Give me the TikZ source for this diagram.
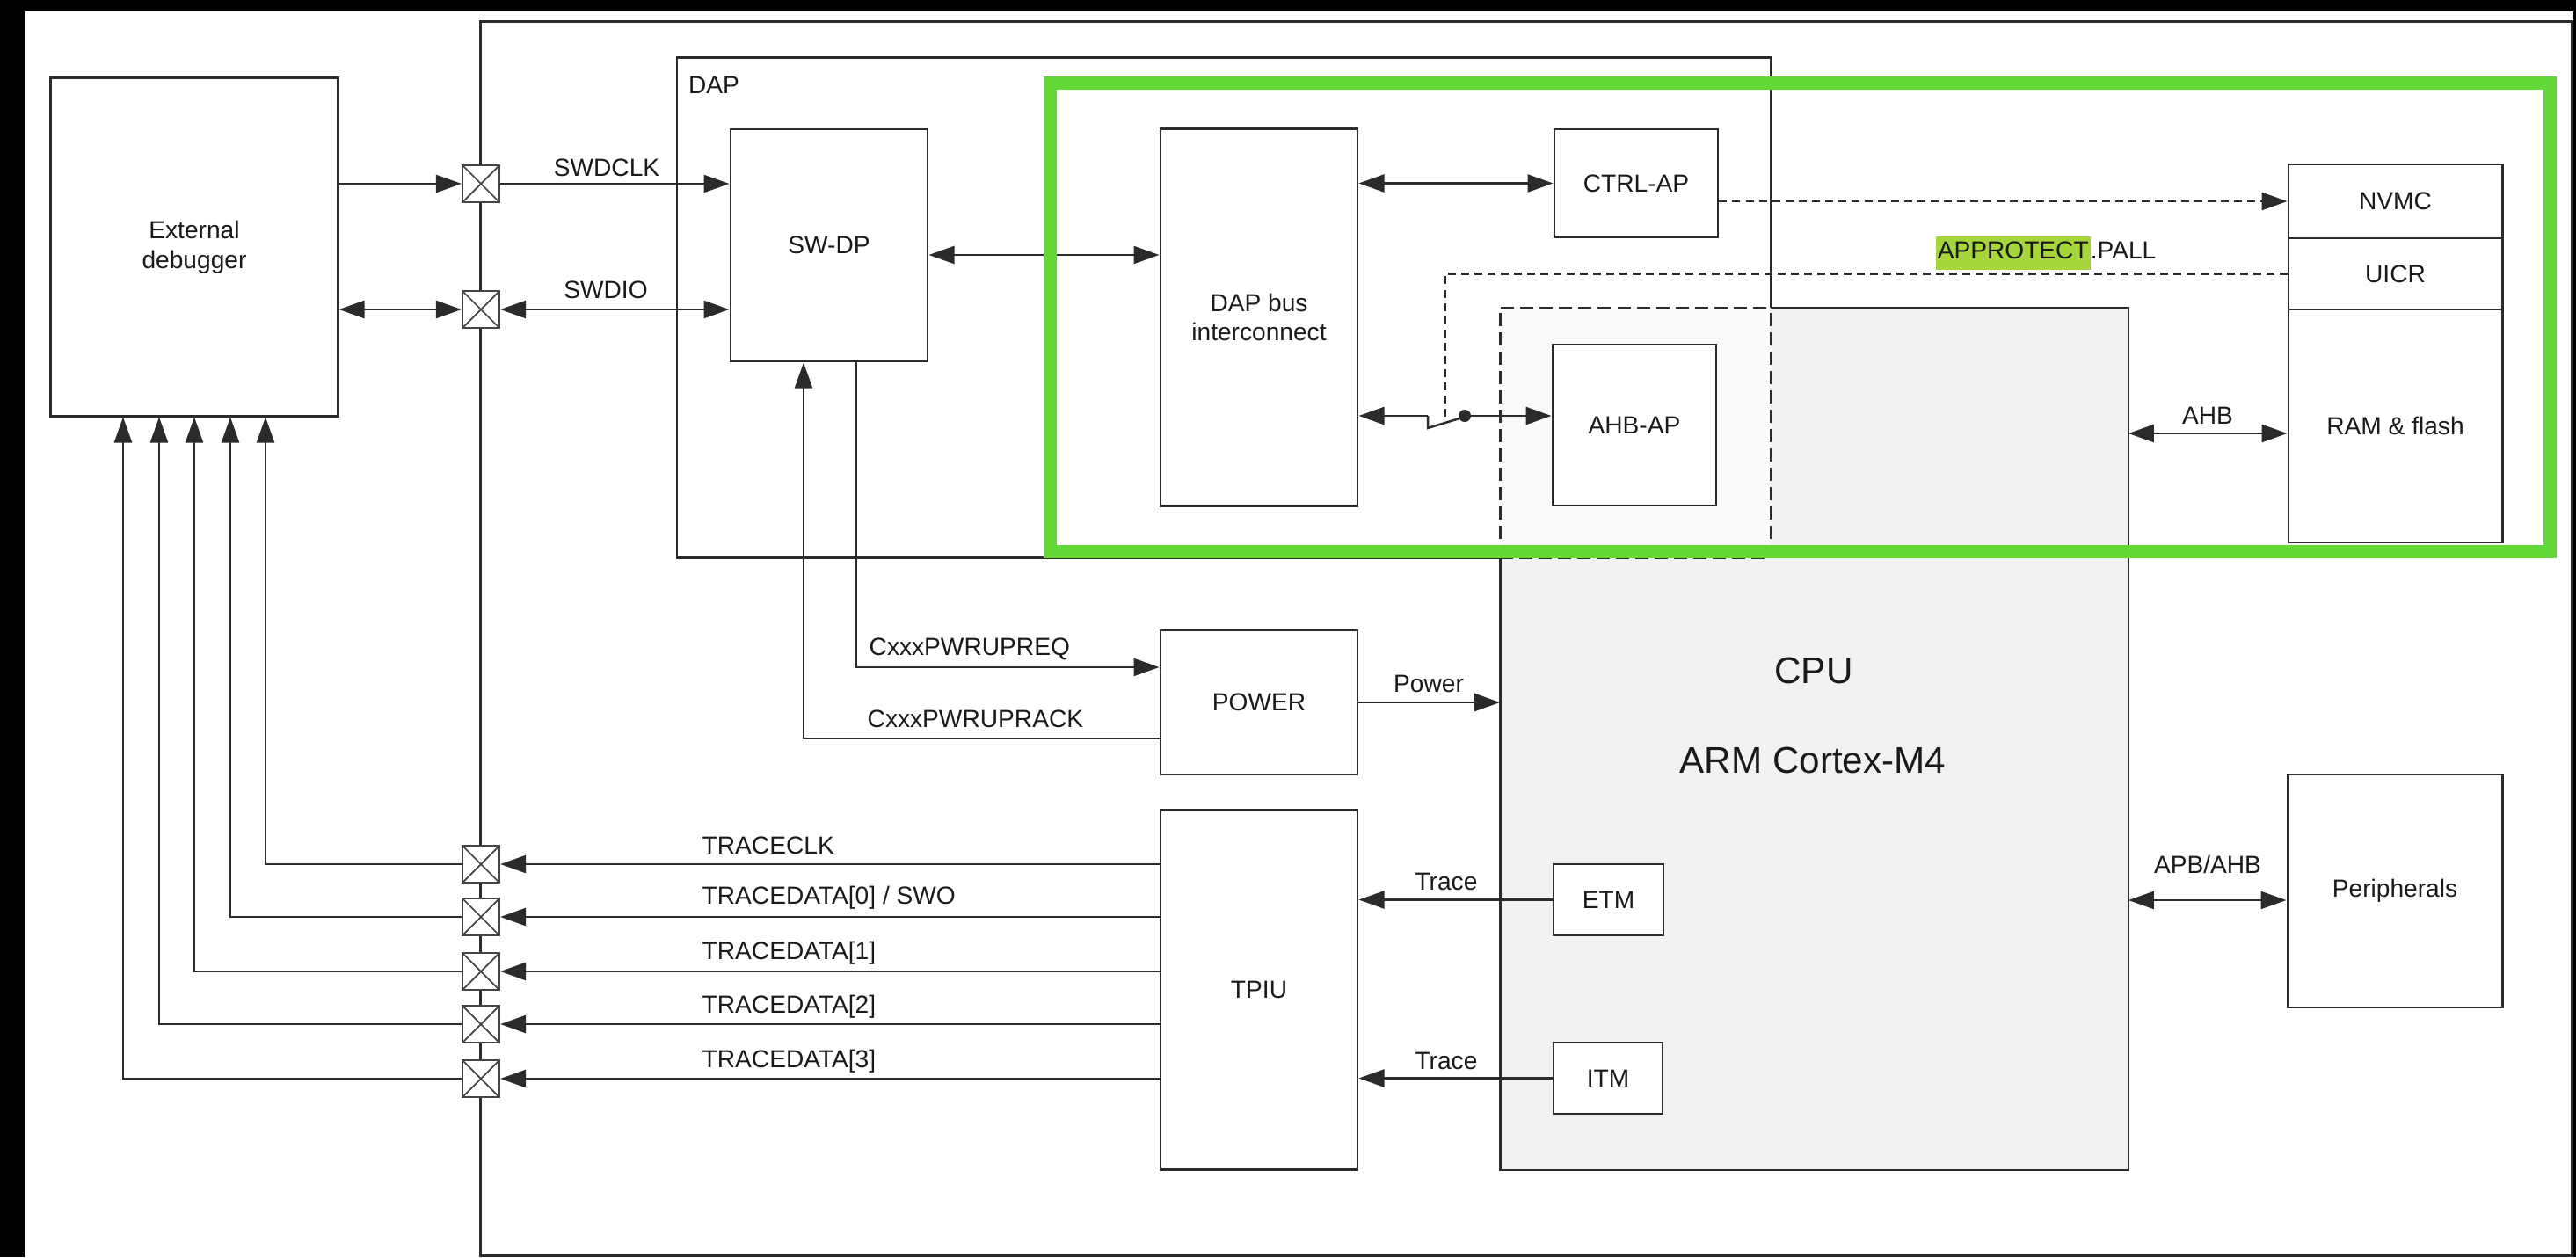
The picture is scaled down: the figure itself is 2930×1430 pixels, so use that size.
\documentclass[tikz,border=0pt]{standalone}
\usepackage{fontspec}
\setmainfont{Liberation Sans}
\usetikzlibrary{arrows.meta}
\definecolor{ln}{HTML}{2B2B2B}
\definecolor{padln}{HTML}{444444}
\definecolor{cpufill}{HTML}{F2F2F2}
\definecolor{ovl}{HTML}{FAFAFA}
\definecolor{grn}{HTML}{62D936}
\definecolor{hl}{HTML}{A6D63C}
\definecolor{txt}{HTML}{1A1A1A}
\begin{document}
\begin{tikzpicture}[x=0.01cm,y=-0.01cm,
  font=\fontsize{8}{9.6}\selectfont, text=txt,
  box/.style={draw=ln, line width=0.8pt, fill=white, inner sep=0pt, align=center},
  pad/.style={draw=padln, line width=0.6pt, fill=white, minimum width=0.42cm, minimum height=0.42cm, inner sep=0pt,
    path picture={\draw[padln,line width=0.5pt] (path picture bounding box.north west) -- (path picture bounding box.south east) (path picture bounding box.north east) -- (path picture bounding box.south west);}},
  conn/.style={draw=ln, line width=0.7pt},
  arr/.style={conn, -{Triangle[length=0.29cm,width=0.2cm]}},
  biarr/.style={conn, {Triangle[length=0.29cm,width=0.2cm]}-{Triangle[length=0.29cm,width=0.2cm]}},
  dsh/.style={conn, dash pattern=on 0.09cm off 0.06cm},
  bdsh/.style={draw=ln, line width=0.8pt, dash pattern=on 0.15cm off 0.07cm},
  bsol/.style={draw=ln, line width=0.8pt},
  lbl/.style={inner sep=0pt},
]
% background
\fill[black] (0,0) rectangle (2930,1430);
\fill[white] (29,13) rectangle (2927,1430);
\useasboundingbox (0,0) rectangle (2930,1430);

% outer chip box
\node[draw=ln, line width=0.8pt, minimum width=23.78cm, minimum height=14.03cm, inner sep=0pt] (outer) at (1736,726.5) {};

% DAP and CPU regions
\node[minimum width=12.42cm, minimum height=5.68cm, inner sep=0pt] (dap) at (1392,350) {};
\node[fill=cpufill, minimum width=7.13cm, minimum height=9.79cm, inner sep=0pt] (cpu) at (2063.5,840.5) {};
\fill[ovl] (cpu.north west) rectangle (dap.south east);
\draw[bsol] (cpu.north -| dap.east) -- (dap.north east) -- (dap.north west) -- (dap.south west) -- (dap.south -| cpu.west);
\draw[bdsh] (dap.south -| cpu.west) -- (dap.south east) -- (cpu.north -| dap.east);
\draw[bsol] (cpu.north -| dap.east) -- (cpu.north east) -- (cpu.south east) -- (cpu.south west) -- (dap.south -| cpu.west);
\draw[bdsh] (dap.south -| cpu.west) -- (cpu.north west) -- (cpu.north -| dap.east);
\node[lbl] (daplbl) at (812,97) {DAP};
\node[lbl, font=\fontsize{12}{14}\selectfont] (cpulbl) at (2063,763) {CPU};
\node[lbl, font=\fontsize{12}{14}\selectfont] (armlbl) at (2062,865) {ARM Cortex-M4};

% boxes
\node[box, minimum width=3.26cm, minimum height=3.84cm] (ext) at (221,281) {External\\debugger};
\node[box, minimum width=2.24cm, minimum height=2.64cm] (swdp) at (943,279) {SW-DP};
\node[box, minimum width=2.24cm, minimum height=4.28cm] (dapbus) at (1432,361) {DAP bus\\interconnect};
\node[box, minimum width=1.86cm, minimum height=1.23cm] (ctrl) at (1861,208.5) {CTRL-AP};
\node[box, minimum width=1.86cm, minimum height=1.83cm] (ahbap) at (1859,483.5) {AHB-AP};
\node[box, minimum width=2.24cm, minimum height=1.64cm] (power) at (1432,799) {POWER};
\node[box, minimum width=2.24cm, minimum height=4.08cm] (tpiu) at (1432,1126) {TPIU};
\node[box, minimum width=1.25cm, minimum height=0.81cm] (etm) at (1829.5,1023.5) {ETM};
\node[box, minimum width=1.24cm, minimum height=0.81cm] (itm) at (1829,1226.5) {ITM};
\node[box, minimum width=2.43cm, minimum height=0.84cm] (nvmc) at (2724.5,229) {NVMC};
\node[box, minimum width=2.43cm, minimum height=0.81cm] (uicr) at (2724.5,311.5) {UICR};
\node[box, minimum width=2.43cm, minimum height=2.65cm] (ram) at (2724.5,484.5) {RAM \& flash};
\node[box, minimum width=2.44cm, minimum height=2.65cm] (periph) at (2724,1013.5) {Peripherals};

% pads
\node[pad] (p1) at (547,209) {};
\node[pad] (p2) at (547,352) {};
\node[pad] (t0) at (547,983) {};
\node[pad] (t1) at (547,1043) {};
\node[pad] (t2) at (547,1105) {};
\node[pad] (t3) at (547,1165) {};
\node[pad] (t4) at (547,1227) {};

% SWD connectors
\draw[arr] (ext.east |- p1) -- (p1.west);
\draw[arr] (p1.east) -- (swdp.west |- p1);
\draw[biarr] (ext.east |- p2) -- (p2.west);
\draw[biarr] (p2.east) -- (swdp.west |- p2);
\node[lbl] (lswdclk) at (690,191) {SWDCLK};
\node[lbl] (lswdio) at (689,330) {SWDIO};

% DAP internal
\draw[biarr] (swdp.east |- 0,290) -- (dapbus.west |- 0,290);
\draw[biarr] (dapbus.east |- ctrl.west) -- (ctrl.west);
\coordinate (swa) at (1624,473);
\coordinate (swb) at (1624,487);
\coordinate (swc) at (1660,476);
\coordinate (lev) at (1644,481);
\node[circle, fill=ln, inner sep=0pt, minimum size=0.14cm] (swdot) at (1666,473) {};
\draw[arr] (swa) -- (dapbus.east |- swa);
\draw[conn] (swa) -- (swb) -- (swc);
\draw[arr] (swdot.center) -- (ahbap.west |- swdot);
\draw[dsh, -{Triangle[length=0.29cm,width=0.2cm]}] (ctrl.east |- nvmc.west) -- (nvmc.west);
\draw[dsh] (uicr.west) -| (lev);
\node[lbl] (lappr) at (2327,288) {{\setlength{\fboxsep}{0.6pt}\colorbox{hl}{\strut APPROTECT}}.PALL};

% power
\draw[arr] (swdp.south -| 974,0) |- (power.west |- 0,759);
\draw[arr] (power.west |- 0,840) -| (swdp.south -| 914,0);
\node[lbl, anchor=west] (lreq) at (988,738) {CxxxPWRUPREQ};
\node[lbl, anchor=west] (lack) at (986,818) {CxxxPWRUPRACK};
\draw[arr] (power.east) -- (cpu.west |- power.east);
\node[lbl] (lpow) at (1625,778) {Power};

% trace
\draw[arr] (etm.west) -- (tpiu.east |- etm.west);
\draw[arr] (itm.west) -- (tpiu.east |- itm.west);
\node[lbl] (ltr1) at (1645,1003) {Trace};
\node[lbl] (ltr2) at (1645,1207) {Trace};
\draw[arr] (tpiu.west |- t0) -- (t0.east);
\draw[arr] (tpiu.west |- t1) -- (t1.east);
\draw[arr] (tpiu.west |- t2) -- (t2.east);
\draw[arr] (tpiu.west |- t3) -- (t3.east);
\draw[arr] (tpiu.west |- t4) -- (t4.east);
\draw[arr] (t0.west) -| (ext.south -| 302,0);
\draw[arr] (t1.west) -| (ext.south -| 262,0);
\draw[arr] (t2.west) -| (ext.south -| 221,0);
\draw[arr] (t3.west) -| (ext.south -| 181,0);
\draw[arr] (t4.west) -| (ext.south -| 140,0);
\node[lbl, anchor=west] (lt0) at (798,962) {TRACECLK};
\node[lbl, anchor=west] (lt1) at (798,1021) {TRACEDATA[0] / SWO};
\node[lbl, anchor=west] (lt2) at (798,1084) {TRACEDATA[1]};
\node[lbl, anchor=west] (lt3) at (798,1145) {TRACEDATA[2]};
\node[lbl, anchor=west] (lt4) at (798,1207) {TRACEDATA[3]};

% buses
\draw[biarr] (cpu.east |- 0,493) -- (ram.west |- 0,493);
\node[lbl] (lahb) at (2511,473) {AHB};
\draw[biarr] (cpu.east |- 0,1024) -- (periph.west |- 0,1024);
\node[lbl] (lapb) at (2511,983) {APB/AHB};

% highlight frame
\node[draw=grn, line width=0.15cm, minimum width=17.05cm, minimum height=5.32cm, inner sep=0pt] (focus) at (2047.5,361) {};
\end{tikzpicture}
\end{document}
